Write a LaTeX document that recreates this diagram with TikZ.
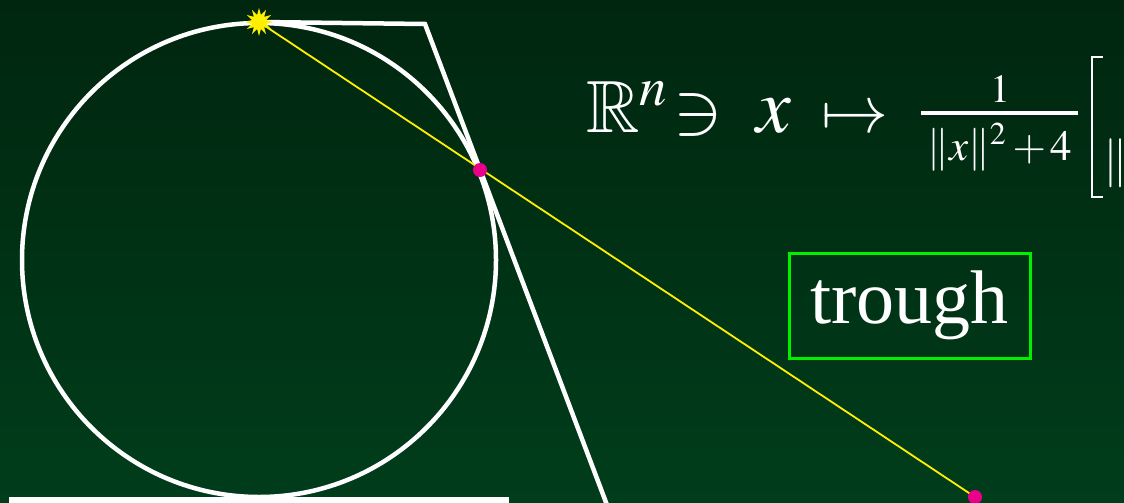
\documentclass[tikz,border=0pt]{standalone}
\usepackage{mathptmx}
\usepackage{amssymb}
\usepackage{fontspec}
\setmainfont{Liberation Serif}
\usetikzlibrary{shapes.geometric}
\definecolor{ProjBgTop}{HTML}{00260F}
\definecolor{ProjBgBottom}{HTML}{003D1B}
\definecolor{ProjYellow}{HTML}{FFF000}
\definecolor{ProjMagenta}{HTML}{E8008A}
\definecolor{ProjGreen}{HTML}{00F000}

\begin{document}
\begin{tikzpicture}[
  x=1pt, y=-1pt,
  chalk/.style={draw=white, line width=4.5pt, line join=miter},
  ray/.style={draw=ProjYellow, line width=1.8pt},
  dot/.style={circle, fill=ProjMagenta, inner sep=0pt, minimum size=14pt},
  burst/.style={star, star points=12, star point ratio=1.9, fill=ProjYellow, inner sep=0pt, minimum size=28pt},
  formula/.style={text=white, anchor=base west, inner sep=0pt, font=\fontsize{10}{12}\selectfont},
  labelbox/.style={draw=ProjGreen, line width=3pt, text=white, minimum width=241pt, minimum height=105pt, inner sep=0pt, font=\fontsize{76}{90}\selectfont}
]
\useasboundingbox (0,0) rectangle (1124,503);
\clip (0,0) rectangle (1124,503);
\shade[top color=ProjBgTop, bottom color=ProjBgBottom] (0,0) rectangle (1124,503);

% sphere, tangent line and plane
\draw[chalk] (259,260) circle[radius=237pt];
\fill[white] (9,497) rectangle (509,503);
\coordinate (north) at (259,22);
\coordinate (corner) at (425,24);
\coordinate (foot) at (607,505);
\coordinate (touchpt) at (480,170);
\coordinate (imagept) at (975,497);
\draw[chalk] (north) -- (corner) -- (foot);

% projection ray
\draw[ray] (north) -- (imagept);
\node[dot] (touch) at (touchpt) {};
\node[dot] (image) at (imagept) {};
\node[burst] (pole) at (north) {};

% formula
\node[formula, scale=7.4] (space) at (585,132) {$\mathbb{R}^n$};
\node[formula, scale=7.4] (ni) at (672,133) {$\ni$};
\node[formula, scale=7.8] (var) at (755,132) {$x$};
\node[formula, scale=6.7] (mapsto) at (820,132) {$\mapsto$};
\node[formula, anchor=base, scale=4.0] (num) at (1000,102) {$1$};
\node[formula, anchor=base, scale=4.3] (den) at (1000,160) {$\|x\|^2\,{+}\,4$};
\draw[white, line width=3.5pt] (921,113) -- (1078,113);
\draw[white, line width=2.6pt] (1103,57) -- (1092,57) -- (1092,197) -- (1103,197);
\node[formula, scale=4.9] (norm) at (1103,175) {$\|$};

\node[labelbox] (trough) at (909.5,305.5) {trough};
\end{tikzpicture}
\end{document}
